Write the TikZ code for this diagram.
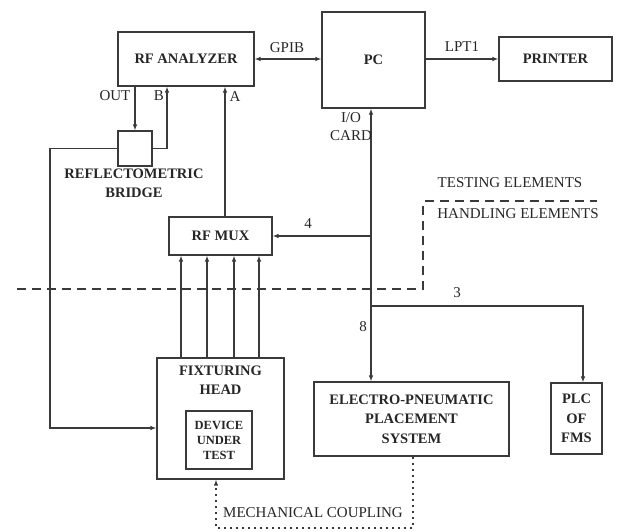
\documentclass[tikz,border=0pt]{standalone}
\usepackage{fontspec}
\setmainfont{Liberation Serif}
\usetikzlibrary{arrows.meta}
\definecolor{Ink}{HTML}{262626}
\definecolor{Wire}{HTML}{3A3A3A}
\tikzset{
  unit box/.style={draw=Wire, line width=1.1pt, inner sep=0pt, align=center, text=Ink,
    font=\rmfamily\bfseries\fontsize{14.5}{19.5}\selectfont},
  box caption/.style={inner sep=0pt, align=center, text=Ink,
    font=\rmfamily\bfseries\fontsize{14.5}{19.5}\selectfont},
  port label/.style={inner sep=0pt, align=center, text=Ink,
    font=\rmfamily\fontsize{15}{18}\selectfont},
  signal/.style={-{Latex[length=6pt,width=4.5pt]}, draw=Wire, line width=1.1pt},
  duplex/.style={{Latex[length=6pt,width=4.5pt]}-{Latex[length=6pt,width=4.5pt]}, draw=Wire, line width=1.1pt},
  zone edge/.style={draw=Wire, line width=2pt, dash pattern=on 9pt off 6pt},
  coupling/.style={-{Latex[length=6pt,width=4.5pt]}, draw=Wire, line width=2pt,
    dash pattern=on 2pt off 4pt},
}

\begin{document}
\begin{tikzpicture}[x=1pt, y=-1pt]
  \useasboundingbox (0,0) rectangle (619,531);

  % Testing side: analyzer, computer, printer, bridge and multiplexer.
  \node[unit box, minimum width=136pt, minimum height=54pt] (analyzer) at (186,59) {RF ANALYZER};
  \node[unit box, minimum width=103pt, minimum height=96pt] (pc) at (373.5,60) {PC};
  \node[unit box, minimum width=113pt, minimum height=44pt] (printer) at (555.5,59) {PRINTER};
  \node[unit box, minimum width=34pt, minimum height=35pt] (bridge) at (135,148.5) {};
  \node[box caption] (bridgecap) at (134,183.5) {REFLECTOMETRIC\\BRIDGE};
  \node[unit box, minimum width=103pt, minimum height=38pt] (mux) at (220.5,236) {RF MUX};

  % Handling side: fixture with the device, placement unit and PLC.
  \node[unit box, minimum width=127pt, minimum height=121pt] (fixture) at (220.5,418.5) {};
  \node[box caption] (fixturecap) at (220.5,380) {FIXTURING\\HEAD};
  \node[unit box, minimum width=66pt, minimum height=58pt, font=\rmfamily\bfseries\fontsize{12.5}{15}\selectfont]
    (dut) at (219,440) {DEVICE\\UNDER\\TEST};
  \node[unit box, minimum width=195pt, minimum height=74pt] (placement) at (411.5,419)
    {ELECTRO-PNEUMATIC\\PLACEMENT\\SYSTEM};
  \node[unit box, minimum width=51pt, minimum height=71pt] (plc) at (576.5,418.5) {PLC\\OF\\FMS};

  % Boundary between the two groups of elements.
  \draw[zone edge] (17,289) -- (423,289) -- (423,206);
  \draw[zone edge] (425,201) -- (597,201);
  \node[port label] (testing) at (510,183) {TESTING ELEMENTS};
  \node[port label] (handling) at (518,214) {HANDLING ELEMENTS};

  % Bus taps below the I/O card.
  \coordinate (muxtap) at (371,236);
  \coordinate (plctap) at (371,306);
  \coordinate (loop) at (50,428);
  \coordinate (mech) at (216,528);

  % Connections.
  \draw[duplex] (analyzer.east) -- (analyzer.east -| pc.west);
  \draw[signal] (pc.east |- printer.west) -- (printer.west);
  \draw[duplex] (pc.south -| muxtap) -- (placement.north -| muxtap);
  \draw[signal] (muxtap) -- (mux.east |- muxtap);
  \draw[signal] (plctap) -| ([xshift=6.5pt]plc.north);
  \draw[signal] (analyzer.south -| bridge.north) -- (bridge.north);
  \draw[signal] (bridge.east) -| ([xshift=-19pt]analyzer.south);
  \draw[signal] ([xshift=4.5pt]mux.north) -- ([xshift=4.5pt]mux.north |- analyzer.south);
  \draw[signal] (bridge.west) -| (loop) -- (loop -| fixture.west);
  \foreach \dx in {-39.5,-13.5,13.5,38.5}
    \draw[signal] ([xshift=\dx pt]fixture.north) -- ([xshift=\dx pt]mux.south);
  \draw[coupling] ([xshift=1.5pt]placement.south) |- (mech) -- (mech |- fixture.south);

  % Connector labels.
  \node[port label] (gpib) at (287,48) {GPIB};
  \node[port label] (lpt) at (462,47) {LPT1};
  \node[port label] (out) at (115,96) {OUT};
  \node[port label] (bport) at (159,96) {B};
  \node[port label] (aport) at (235,97) {A};
  \node[port label] (iocard) at (351,127) {I/O\\CARD};
  \node[port label] (four) at (308,224) {4};
  \node[port label] (three) at (457,293) {3};
  \node[port label] (eight) at (363,327) {8};
  \node[port label, fill=white, inner sep=1pt] (mechcap) at (313,513) {MECHANICAL COUPLING};
\end{tikzpicture}
\end{document}
